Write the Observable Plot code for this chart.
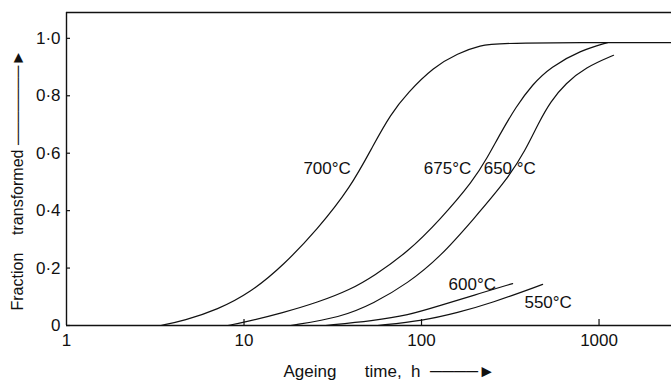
<!DOCTYPE html>
<html><head><meta charset="utf-8">
<script src="https://cdn.jsdelivr.net/npm/d3@7"></script>
<script src="https://cdn.jsdelivr.net/npm/@observablehq/plot@0.6"></script>
<style>html,body{margin:0;padding:0;background:#fff;}</style>
</head><body><div id="chart"></div>
<script>
// Series data: ageing time (h) and fraction transformed
const time700 = [3.4, 4.6, 7.1, 10.9, 16.7, 25.9, 39.8, 53.7, 66.9, 83.4, 117, 160, 215, 279, 2560];
const frac700 = [0, 0.017, 0.055, 0.115, 0.21, 0.335, 0.48, 0.63, 0.735, 0.81, 0.9, 0.948, 0.976, 0.985, 0.985];
const time675 = [8.1, 9.9, 16.7, 25.9, 39.8, 53.7, 83.4, 128, 196, 235, 279, 339, 422, 533, 787, 1117];
const frac675 = [0, 0.010, 0.045, 0.08, 0.125, 0.172, 0.255, 0.37, 0.505, 0.585, 0.67, 0.76, 0.84, 0.9, 0.958, 0.985];
const time650 = [18.3, 35, 53.7, 83.4, 128, 196, 305, 385, 456, 533, 648, 839, 1207];
const frac650 = [0, 0.028, 0.077, 0.146, 0.24, 0.37, 0.51, 0.61, 0.705, 0.78, 0.843, 0.899, 0.941];
const time600 = [28.8, 53.7, 83.4, 128, 196, 326];
const frac600 = [0, 0.017, 0.035, 0.070, 0.105, 0.146];
const time550 = [56.5, 103, 160, 245, 481];
const frac550 = [0, 0.017, 0.045, 0.077, 0.143];

const seriesNames = ["700", "675", "650", "600", "550"];
const seriesTimes = [time700, time675, time650, time600, time550];
const seriesFracs = [frac700, frac675, frac650, frac600, frac550];

// Curve labels
const labelTexts = ["700°C", "675°C", "650 °C", "600°C", "550°C"];
const labelTimes = [21.6, 103, 224, 142, 380];
const labelFracs = [0.547, 0.547, 0.547, 0.143, 0.08];

// Axes
const xDomain = [1, 2560];
const yDomain = [0, 1.09];
const xTicks = [1, 10, 100, 1000];
const xTickLabels = ["1", "10", "100", "1000"];
const xTickMarks = [10, 100, 1000];
const yTicks = [0, 0.2, 0.4, 0.6, 0.8, 1.0];
const yTickLabels = ["0", "0·2", "0·4", "0·6", "0·8", "1·0"];
const xTitle = "Ageing      time,  h  ────►";
const yTitle = "Fraction    transformed ───────►";

const rows = seriesNames.flatMap((s, k) =>
  seriesTimes[k].map((t, i) => ({series: s, t, f: seriesFracs[k][i]})));
const labels = labelTexts.map((text, i) => ({text, t: labelTimes[i], f: labelFracs[i]}));

const W = 671, H = 380, mL = 66, mR = 0, mT = 12, mB = 55;
const innerW = W - mL - mR, innerH = H - mT - mB;
const ink = "#111";
const plot = Plot.plot({
  width: W,
  height: H,
  marginLeft: mL,
  marginRight: mR,
  marginTop: mT,
  marginBottom: mB,
  style: {fontFamily: "'Liberation Sans', Arial, sans-serif", fontSize: "17px", color: ink, background: "#fff"},
  x: {type: "log", domain: xDomain},
  y: {domain: yDomain},
  marks: [
    Plot.ruleX([xDomain[0]], {stroke: ink, strokeWidth: 1.4}),
    Plot.ruleY([yDomain[0]], {stroke: ink, strokeWidth: 1.4}),
    Plot.ruleY([yDomain[1]], {stroke: ink, strokeWidth: 1.4}),
    Plot.axisY(yTicks, {tickSize: 0, tickPadding: 6, label: null, fontSize: 17,
      tickFormat: d => yTickLabels[yTicks.indexOf(d)]}),
    Plot.tickY(yTicks, {y: d => d, insetRight: innerW - 4, stroke: ink, strokeWidth: 1.2}),
    Plot.axisX(xTicks, {tickSize: 0, tickPadding: 8, label: null, fontSize: 17,
      tickFormat: d => xTickLabels[xTicks.indexOf(d)]}),
    Plot.tickX(xTickMarks, {x: d => d, insetTop: innerH - 6, stroke: ink, strokeWidth: 1.2}),
    Plot.line(rows, {x: "t", y: "f", z: "series", curve: "basis", stroke: ink, strokeWidth: 1.2}),
    Plot.text(labels, {x: "t", y: "f", text: "text", textAnchor: "start", fontSize: 17, fill: ink}),
    Plot.text([xTitle], {text: d => d, frameAnchor: "bottom-left", dx: 217, dy: 51, textAnchor: "start", fontSize: 17, fill: ink}),
    Plot.text([yTitle], {text: d => d, frameAnchor: "bottom-left", dx: -44, dy: -15, rotate: -90, textAnchor: "start", fontSize: 16, fill: ink})
  ]
});
document.getElementById("chart").appendChild(plot);
</script>
</body></html>
